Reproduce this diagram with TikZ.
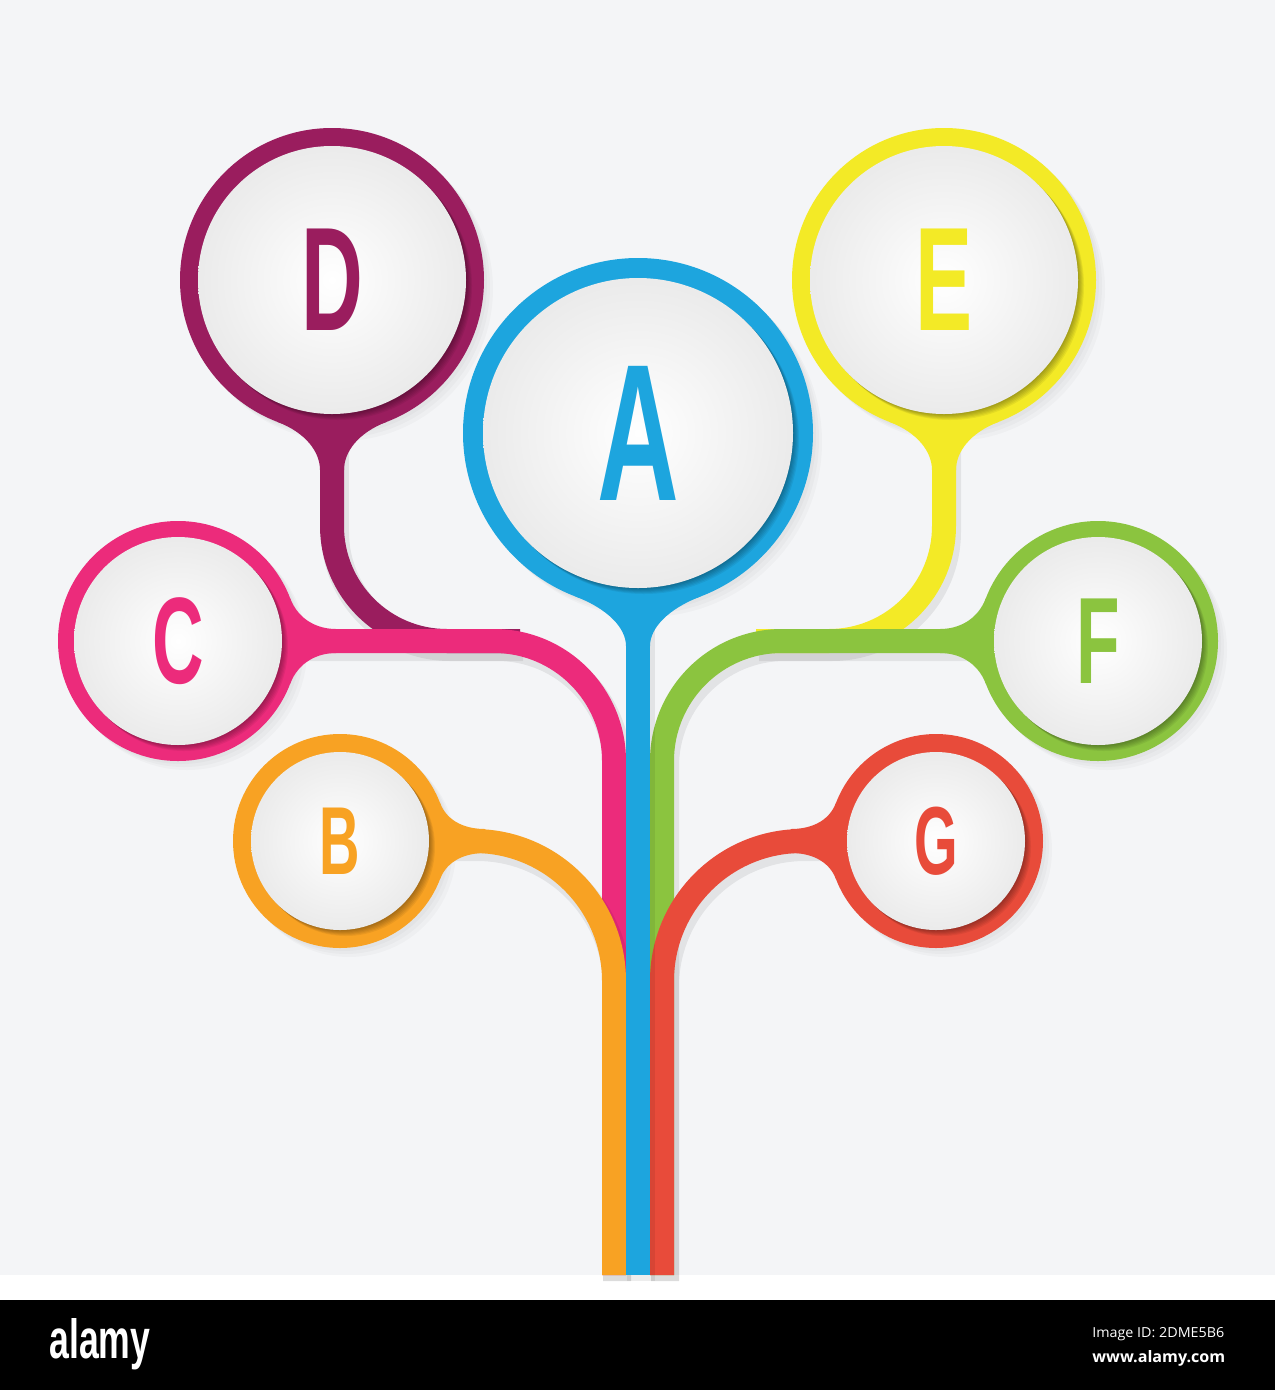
\documentclass[tikz,border=0pt]{standalone}
\usepackage{fontspec}
\setmainfont{Liberation Sans}
\newfontfamily\stockfont{Open Sans}
\usetikzlibrary{calc}

\definecolor{bgGrey}{RGB}{244,245,247}
\definecolor{blueA}{RGB}{29,165,222}
\definecolor{orangeB}{RGB}{248,162,35}
\definecolor{pinkC}{RGB}{236,43,123}
\definecolor{purpleD}{RGB}{154,29,94}
\definecolor{yellowE}{RGB}{243,234,38}
\definecolor{greenF}{RGB}{139,196,63}
\definecolor{redG}{RGB}{232,75,58}

\begin{document}
\begin{tikzpicture}[x=0.02cm, y=-0.02cm]
        % one unit is one pixel of the layout, y grows downwards
        \tikzset{
            stem/.style={line width=0.48cm},
            stemshade/.style={line width=0.56cm, black, opacity=0.07,
            transform canvas={shift={(0.06cm,-0.12cm)}}},
        }

        % Page with its margins
        \useasboundingbox (0,0) rectangle (1275,1390);
        \fill[bgGrey] (0,0) rectangle (1275,1275);
        \fill[white] (0,1275) rectangle (1275,1300);
        \fill[black] (0,1300) rectangle (1275,1390);

        % Bubble centres
        \coordinate (A) at (638,433);
        \coordinate (B) at (340,841);
        \coordinate (C) at (178,641);
        \coordinate (D) at (332,280);
        \coordinate (E) at (944,280);
        \coordinate (F) at (1098,641);
        \coordinate (G) at (936,841);

        % Ends of the trunk and the points where D and E join in
        \coordinate (rootL) at (614,1275);
        \coordinate (rootM) at (638,1275);
        \coordinate (rootR) at (662,1275);
        \coordinate (joinD) at (520,641);
        \coordinate (joinE) at (756,641);

        % Branches, the lower ones lie on top
        \draw[stemshade, rounded corners=2.3cm] (D) |- (joinD);
        \draw[stem, purpleD, rounded corners=2.3cm] (D) |- (joinD);
        \draw[stemshade, rounded corners=2.3cm] (E) |- (joinE);
        \draw[stem, yellowE, rounded corners=2.3cm] (E) |- (joinE);

        \draw[stemshade, rounded corners=2.4cm] (C) -| (rootL);
        \draw[stem, pinkC, rounded corners=2.4cm] (C) -| (rootL);
        \draw[stemshade, rounded corners=2.4cm] (F) -| (rootR);
        \draw[stem, greenF, rounded corners=2.4cm] (F) -| (rootR);

        \draw[stemshade, rounded corners=2.8cm] (B) -| (rootL);
        \draw[stem, orangeB, rounded corners=2.8cm] (B) -| (rootL);
        \draw[stemshade, rounded corners=2.8cm] (G) -| (rootR);
        \draw[stem, redG, rounded corners=2.8cm] (G) -| (rootR);

        \draw[stemshade] (A) -- (rootM);
        \draw[stem, blueA] (A) -- (rootM);

        % Bubbles: name/outer radius/inner radius/neck turn/colour/font size
        \foreach \n/\ro/\ri/\rot/\col/\fs in {A/175/155/0/blueA/111,
            D/152/134/0/purpleD/84, E/152/134/0/yellowE/84,
            C/120/104/90/pinkC/70, F/120/104/-90/greenF/70,
            B/107/89/90/orangeB/55, G/107/89/-90/redG/55} {
            % soft shadow on the page
            \foreach \k in {3,6,9}
                \fill[black, opacity=0.025] ($(\n)+(\k,\k)$) circle[radius=\ro];

            % ring and the neck into the branch
            \fill[\col] (\n) circle[radius=\ro];
            \pgfmathsetmacro{\neckx}{\ro*sin(21)}
            \pgfmathsetmacro{\necky}{\ro*cos(21)}
            \pgfmathsetmacro{\neckcx}{\neckx-0.2*\ro*cos(21)}
            \pgfmathsetmacro{\neckcy}{\necky+0.2*\ro*sin(21)}
            \pgfmathsetmacro{\neckb}{\ro+20}
            \pgfmathsetmacro{\necke}{\ro+38}
            \begin{scope}[shift={(\n)}, rotate=\rot]
                \fill[\col] (-\neckx,\necky) .. controls (-\neckcx,\neckcy)
                and (-12,\neckb) .. (-12,\necke) -- (12,\necke)
                .. controls (12,\neckb) and (\neckcx,\neckcy) .. (\neckx,\necky)
                -- (0,0) -- cycle;
            \end{scope}

            % shadow of the disc on the ring
            \foreach \k in {1,...,6}
                \fill[black, opacity=0.06] ($(\n)+(\k,\k)$) circle[radius=\ri];

            % white disc and its letter
            \shade[inner color=white, outer color=black!8] (\n) circle[radius=\ri];
            \node[text=\col, font=\fontsize{\fs}{\fs}\selectfont\bfseries]
                (t\n) at (\n) {\scalebox{0.58}[1]{\n}};
        }

        % Stock bar at the foot
        \node[white, inner sep=0, anchor=base west, font=\bfseries]
            (logo) at (49,1358) {\resizebox{2.02cm}{0.8cm}{alamy}};
        \node[white, inner sep=0, anchor=base west, font=\stockfont]
            (imageid) at (1092,1337) {\resizebox{2.64cm}{0.2cm}{Image ID: 2DME5B6}};
        \node[white, inner sep=0, anchor=base west, font=\stockfont\bfseries]
            (site) at (1092,1362) {\resizebox{2.66cm}{0.24cm}{www.alamy.com}};
\end{tikzpicture}
\end{document}
